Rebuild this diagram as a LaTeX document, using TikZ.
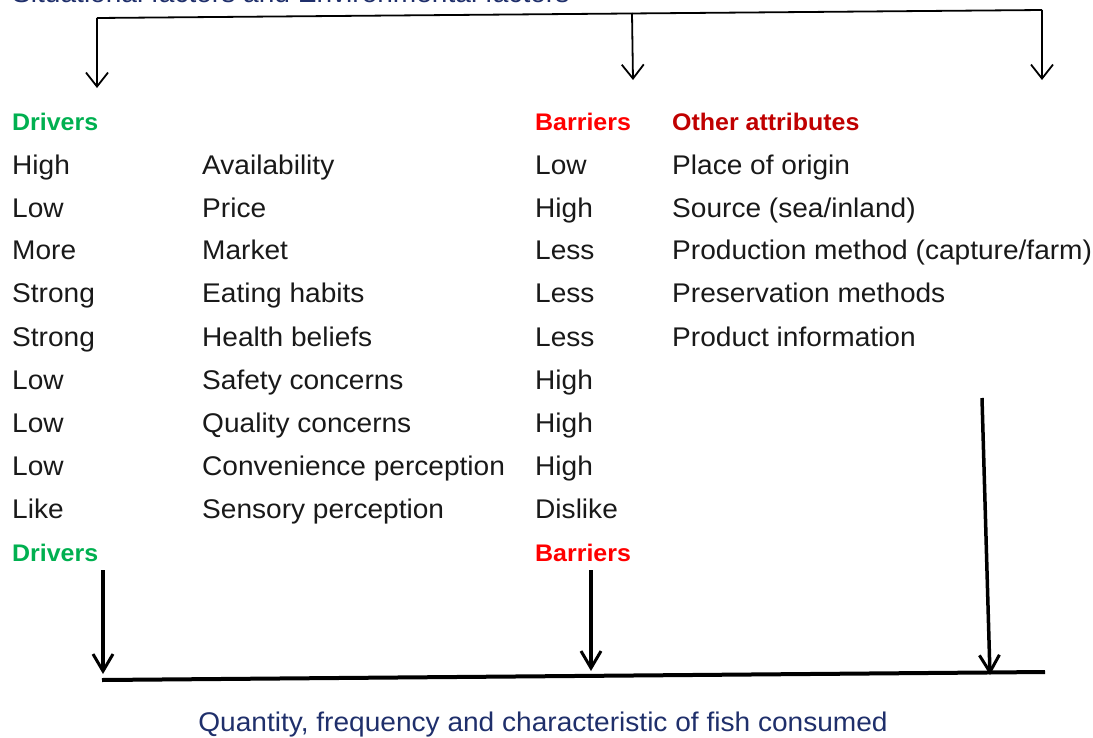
\documentclass[tikz,border=0pt]{standalone}
\usepackage{fontspec}
\setmainfont[FakeStretch=1.04]{Liberation Sans}
\usetikzlibrary{arrows.meta}
\definecolor{drvgreen}{RGB}{0,176,80}
\definecolor{barred}{RGB}{255,0,0}
\definecolor{othred}{RGB}{192,0,0}
\definecolor{navy}{RGB}{31,47,107}
\definecolor{txt}{RGB}{25,25,25}
\tikzset{
  lbl/.style={anchor=base west, inner sep=0pt, font=\fontsize{27}{30}\selectfont, text=txt},
  hdr/.style={lbl, font=\fontsize{24}{28}\selectfont\bfseries},
  thinarrow/.style={line width=1.8pt, -{Straight Barb[length=14pt,width=22pt,line width=1.8pt]}},
  thickarrow/.style={line width=3.5pt, -{Straight Barb[length=17pt,width=20pt,line width=3pt]}},
}
\begin{document}
\begin{tikzpicture}[x=1pt,y=-1pt]
\useasboundingbox (0,0) rectangle (1093,737);
% top label (cut off at the top edge, as in the reference)
\node[lbl, text=navy] (top) at (12,2) {Situational factors and Environmental factors};
% top connector
\coordinate (tl) at (97,18);
\coordinate (tm) at (632,13);
\coordinate (tr) at (1042,10);
\coordinate (a1) at (97,88);
\coordinate (a2) at (633,80);
\coordinate (a3) at (1042,80);
\draw[line width=1.8pt] (tl) -- (tr);
\draw[thinarrow] (tl) -- (a1);
\draw[thinarrow] (tm) -- (a2);
\draw[thinarrow] (tr) -- (a3);
% headers
\node[hdr, text=drvgreen] (dh) at (12,130) {Drivers};
\node[hdr, text=barred] (bh) at (535,130) {Barriers};
\node[hdr, text=othred] (oh) at (672,130) {Other attributes};
% column 1
\node[lbl] (c1r1) at (12,174) {High};
\node[lbl] (c1r2) at (12,217) {Low};
\node[lbl] (c1r3) at (12,259) {More};
\node[lbl] (c1r4) at (12,302) {Strong};
\node[lbl] (c1r5) at (12,346) {Strong};
\node[lbl] (c1r6) at (12,389) {Low};
\node[lbl] (c1r7) at (12,432) {Low};
\node[lbl] (c1r8) at (12,475) {Low};
\node[lbl] (c1r9) at (12,518) {Like};
% column 2
\node[lbl] (c2r1) at (202,174) {Availability};
\node[lbl] (c2r2) at (202,217) {Price};
\node[lbl] (c2r3) at (202,259) {Market};
\node[lbl] (c2r4) at (202,302) {Eating habits};
\node[lbl] (c2r5) at (202,346) {Health beliefs};
\node[lbl] (c2r6) at (202,389) {Safety concerns};
\node[lbl] (c2r7) at (202,432) {Quality concerns};
\node[lbl] (c2r8) at (202,475) {Convenience perception};
\node[lbl] (c2r9) at (202,518) {Sensory perception};
% column 3
\node[lbl] (c3r1) at (535,174) {Low};
\node[lbl] (c3r2) at (535,217) {High};
\node[lbl] (c3r3) at (535,259) {Less};
\node[lbl] (c3r4) at (535,302) {Less};
\node[lbl] (c3r5) at (535,346) {Less};
\node[lbl] (c3r6) at (535,389) {High};
\node[lbl] (c3r7) at (535,432) {High};
\node[lbl] (c3r8) at (535,475) {High};
\node[lbl] (c3r9) at (535,518) {Dislike};
% column 4
\node[lbl] (c4r1) at (672,174) {Place of origin};
\node[lbl] (c4r2) at (672,217) {Source (sea/inland)};
\node[lbl] (c4r3) at (672,259) {Production method (capture/farm)};
\node[lbl] (c4r4) at (672,302) {Preservation methods};
\node[lbl] (c4r5) at (672,346) {Product information};
% footers
\node[hdr, text=drvgreen] (df) at (12,561) {Drivers};
\node[hdr, text=barred] (bf) at (535,561) {Barriers};
% bottom
\coordinate (bl) at (102,680);
\coordinate (br) at (1045,672);
\draw[line width=4pt] (bl) -- (br);
\coordinate (s1) at (103,570);
\coordinate (e1) at (103,674);
\coordinate (s2) at (591,570);
\coordinate (e2) at (591,671);
\coordinate (s3) at (982,398);
\coordinate (e3) at (990,675);
\draw[thickarrow] (s1) -- (e1);
\draw[thickarrow] (s2) -- (e2);
\draw[thickarrow] (s3) -- (e3);
\node[anchor=base, inner sep=0pt, font=\fontsize{27}{30}\selectfont, text=navy] (out) at (543,731) {Quantity, frequency and characteristic of fish consumed};
\end{tikzpicture}
\end{document}
